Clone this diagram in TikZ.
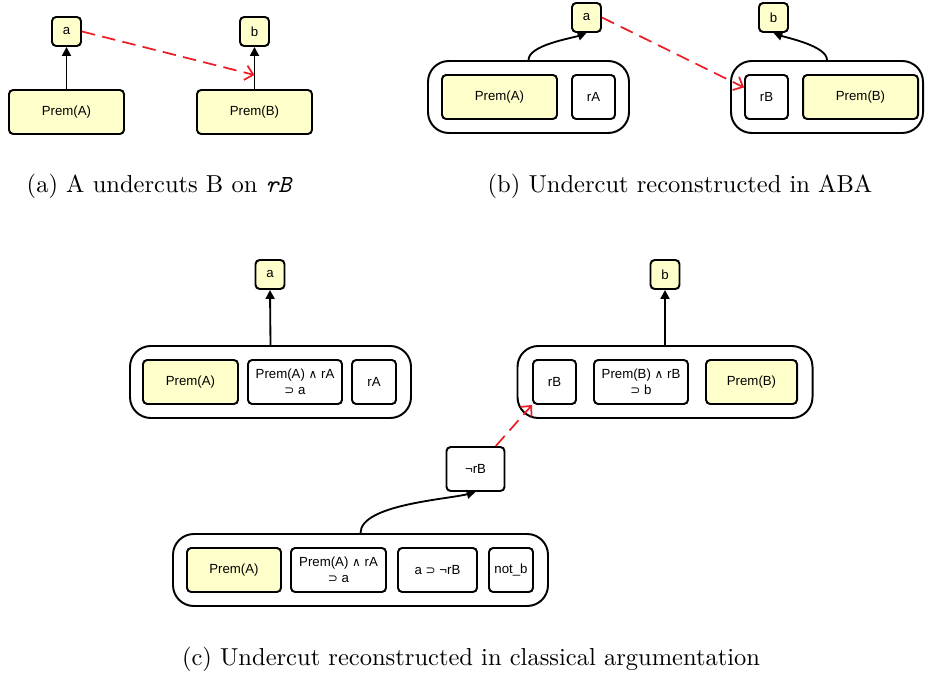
\documentclass[tikz,border=0pt]{standalone}
\usepackage{fontspec}
\newfontfamily\boxsans{Liberation Sans}
\newfontfamily\dvsym{DejaVu Sans}
\usetikzlibrary{arrows.meta}
\definecolor{premfill}{RGB}{255,255,204}
\definecolor{dashred}{RGB}{237,28,36}
\newdimen\pxu \pxu=0.408pt
\newcommand{\boxfont}{\fontsize{5.4}{6.6}\selectfont\boxsans}
\newcommand{\andsym}{{\dvsym\fontsize{4.9}{6.6}\selectfont ∧}}
\newcommand{\impsym}{{\dvsym\fontsize{4.9}{6.6}\selectfont ⊃}}
\tikzset{
  sz/.style n args={2}{minimum width=#1\pxu, minimum height=#2\pxu},
  boxbase/.style={draw=black, line width=0.8pt, rounded corners=1.7pt, inner sep=0pt, align=center, font=\boxfont},
  prem/.style={boxbase, fill=premfill},
  plainbox/.style={boxbase, fill=white},
  outerbox/.style={draw=black, line width=0.8pt, rounded corners=8.5pt, inner sep=0pt},
  support/.style={draw=black, line width=0.75pt, -{Triangle[length=3.6pt,width=3.6pt]}},
  undercut/.style={draw=dashred, line width=0.7pt, dash pattern=on 5.5pt off 3pt, -{Straight Barb[length=3.2pt,width=6pt]}},
  caption/.style={inner sep=0pt, font=\fontsize{10}{12}\selectfont}
}
\begin{document}
\begin{tikzpicture}[x=0.408pt, y=-0.408pt]
\useasboundingbox (0,0) rectangle (925,675);
% ---------------- (a)
\node[prem, sz={29}{29}] (aA) at (66.5,31.5) {a};
\node[prem, sz={29}{29}] (bA) at (254.5,31.5) {b};
\node[prem, sz={115}{44}] (pA) at (66.5,112) {Prem(A)};
\node[prem, sz={115}{44}] (pB) at (254.5,112) {Prem(B)};
\draw[support] (pA) -- (aA);
\draw[support] (pB) -- (bA);
\coordinate (hitA) at (254.5,75);
\draw[undercut] (aA.east) -- (hitA);
\node[caption] (capA) at (159,186) {(a) A undercuts B on {\ttfamily\itshape rB}};
% ---------------- (b)
\node[prem, sz={29}{29}] (aB) at (586.5,17.5) {a};
\node[prem, sz={29}{29}] (bB) at (773.5,17.5) {b};
\node[outerbox, sz={201}{72}] (outL) at (528.5,97) {};
\node[prem, sz={115}{44}] (pAb) at (499.5,97) {Prem(A)};
\node[plainbox, sz={43}{44}] (rAb) at (593.5,97) {rA};
\node[outerbox, sz={192}{72}] (outR) at (827,97) {};
\node[plainbox, sz={43}{44}] (rBb) at (766.5,97) {rB};
\node[prem, sz={115}{44}] (pBb) at (860.5,97) {Prem(B)};
\draw[support] (outL.north) to[out=90, in=-160, looseness=0.6] (aB.south);
\draw[support] (outR.north) to[out=90, in=-20, looseness=0.6] (bB.south);
\draw[undercut] (aB.east) -- (rBb.157);
\node[caption] (capB) at (680,186) {(b) Undercut reconstructed in ABA};
% ---------------- (c)
\node[prem, sz={29}{29}] (aC) at (270,274.5) {a};
\node[outerbox, sz={281}{72}] (outC1) at (270.5,382) {};
\node[prem, sz={95}{44}] (pAc) at (190.5,382) {Prem(A)};
\node[plainbox, sz={94}{44}] (ruleA) at (295,382) {Prem(A) \andsym{} rA\\\impsym{} a};
\node[plainbox, sz={44}{44}] (rAc) at (374,382) {rA};
\draw[support] (outC1.north) -- (aC.south);
\node[prem, sz={29}{29}] (bC) at (665,274.5) {b};
\node[outerbox, sz={295}{72}] (outC2) at (665,382) {};
\node[plainbox, sz={43}{44}] (rBc) at (554.5,382) {rB};
\node[plainbox, sz={94}{44}] (ruleB) at (641,382) {Prem(B) \andsym{} rB\\\impsym{} b};
\node[prem, sz={91}{44}] (pBc) at (751.5,382) {Prem(B)};
\draw[support] (outC2.north) -- (bC.south);
\node[plainbox, sz={58}{44}] (nrB) at (475.5,469) {¬rB};
\draw[undercut] (nrB) -- (rBc.south west);
\node[outerbox, sz={375}{72}] (outC3) at (360.5,570) {};
\node[prem, sz={94}{44}] (pAd) at (234,570) {Prem(A)};
\node[plainbox, sz={95}{44}] (ruleA2) at (338.5,570) {Prem(A) \andsym{} rA\\\impsym{} a};
\node[plainbox, sz={79}{44}] (imp) at (437.5,570) {a \impsym{} ¬rB};
\node[plainbox, sz={44}{44}] (notb) at (511,570) {not\_b};
\draw[support] (outC3.north) to[out=90, in=-165, looseness=0.6] (nrB.south);
\node[caption] (capC) at (471,659) {(c) Undercut reconstructed in classical argumentation};
\end{tikzpicture}
\end{document}
